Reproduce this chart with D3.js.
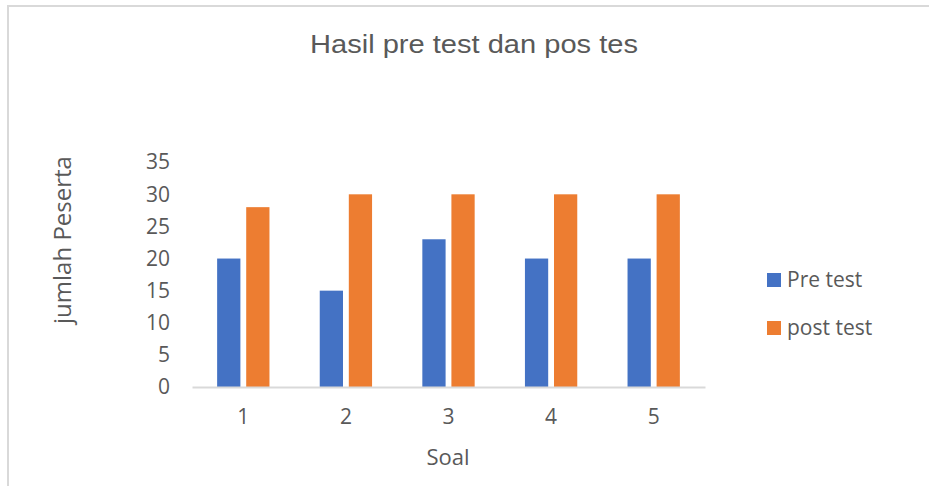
<!DOCTYPE html>
<html>
<head>
<meta charset="utf-8">
<script src="https://cdn.jsdelivr.net/npm/d3@7"></script>
<style>
  body { margin: 0; background: #fff; }
  text { fill: #595959; }
</style>
</head>
<body>
<svg width="929" height="486"></svg>
<script>
var soal = ['1', '2', '3', '4', '5'],
  seriesNames = ['Pre test', 'post test'],
  preTest = [20, 15, 23, 20, 20],
  postTest = [28, 30, 30, 30, 30],
  yTicks = [0, 5, 10, 15, 20, 25, 30, 35];

var colors = {'Pre test': '#4472C4', 'post test': '#ED7D31'};

var rows = soal.map(function(s, i) {
  return {soal: s, values: [{key: 'Pre test', v: preTest[i]}, {key: 'post test', v: postTest[i]}]};
});

var svg = d3.select('svg');

// outer chart border (light gray)
svg
  .append('rect')
  .attr('x', 8)
  .attr('y', 6)
  .attr('width', 940)
  .attr('height', 500)
  .attr('fill', 'none')
  .attr('stroke', '#d9d9d9')
  .attr('stroke-width', 2);

var x0 = d3.scaleBand().domain(soal).range([192, 705]).paddingInner(0.49).paddingOuter(0.245),
  x1 = d3.scaleBand().domain(seriesNames).range([0, x0.bandwidth()]).paddingInner(0.2),
  y = d3.scaleLinear().domain([0, 35]).range([387, 162.2]);

svg
  .append('text')
  .attr('x', 474)
  .attr('y', 53)
  .attr('text-anchor', 'middle')
  .attr('textLength', 328)
  .attr('lengthAdjust', 'spacingAndGlyphs')
  .style('font', '26px "Liberation Sans", Arial, sans-serif')
  .text('Hasil pre test dan pos tes');

// y labels, no axis line
var yAxis = svg
  .append('g')
  .attr('transform', 'translate(170,0)')
  .call(d3.axisLeft(y).tickValues(yTicks).tickSize(0).tickPadding(0));
yAxis.select('.domain').remove();
yAxis
  .selectAll('text')
  .style('font', '21px "Open Sans", sans-serif')
  .attr('fill', '#595959');

var group = svg
  .selectAll('.grp')
  .data(rows)
  .enter()
  .append('g')
  .attr('class', 'grp')
  .attr('transform', d => 'translate(' + x0(d.soal) + ',0)');

group
  .selectAll('rect')
  .data(d => d.values)
  .enter()
  .append('rect')
  .attr('x', d => x1(d.key))
  .attr('y', d => y(d.v))
  .attr('width', x1.bandwidth())
  .attr('height', d => y(0) - y(d.v))
  .attr('fill', d => colors[d.key]);

// baseline + category labels
var xAxis = svg
  .append('g')
  .attr('transform', 'translate(0,' + y(0) + ')')
  .call(d3.axisBottom(x0).tickSize(0).tickPadding(22));
xAxis
  .select('.domain')
  .attr('stroke', '#d9d9d9')
  .attr('stroke-width', 2);
xAxis
  .selectAll('text')
  .style('font', '21px "Open Sans", sans-serif')
  .attr('fill', '#595959');

svg
  .append('text')
  .attr('x', 448)
  .attr('y', 465)
  .attr('text-anchor', 'middle')
  .style('font', '22px "Open Sans", sans-serif')
  .text('Soal');

svg
  .append('text')
  .attr('transform', 'translate(71,240) rotate(-90)')
  .attr('text-anchor', 'middle')
  .style('font', '24px "Open Sans", sans-serif')
  .text('jumlah Peserta');

var legend = svg
  .selectAll('.legend')
  .data(seriesNames)
  .enter()
  .append('g')
  .attr('class', 'legend')
  .attr('transform', (d, i) => 'translate(767,' + (273 + i * 48) + ')');

legend
  .append('rect')
  .attr('width', 14)
  .attr('height', 14)
  .attr('fill', d => colors[d]);

legend
  .append('text')
  .attr('x', 20)
  .attr('y', 7)
  .attr('dy', '0.35em')
  .style('font', '21px "Open Sans", sans-serif')
  .text(d => d);
</script>
</body>
</html>
